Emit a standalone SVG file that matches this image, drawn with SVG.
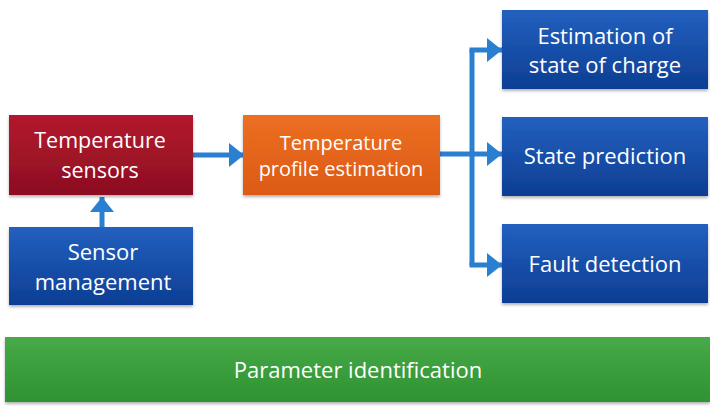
<svg xmlns="http://www.w3.org/2000/svg" width="710" height="406" viewBox="0 0 710 406">
<defs>
<linearGradient id="gRed" x1="0" y1="0" x2="0" y2="1"><stop offset="0" stop-color="#b3172d"/><stop offset="1" stop-color="#8c0f22"/></linearGradient>
<linearGradient id="gOrange" x1="0" y1="0" x2="0" y2="1"><stop offset="0" stop-color="#ec6f22"/><stop offset="1" stop-color="#dc5a15"/></linearGradient>
<linearGradient id="gBlue" x1="0" y1="0" x2="0" y2="1"><stop offset="0" stop-color="#2360bf"/><stop offset="1" stop-color="#0d3e93"/></linearGradient>
<linearGradient id="gGreen" x1="0" y1="0" x2="0" y2="1"><stop offset="0" stop-color="#47aa48"/><stop offset="1" stop-color="#2f9232"/></linearGradient>
<filter id="sh" x="-5%" y="-5%" width="110%" height="120%"><feDropShadow dx="0" dy="2" stdDeviation="1.5" flood-color="#000" flood-opacity="0.3"/></filter>
<marker id="arr" viewBox="0 0 15 24" refX="15" refY="12" markerWidth="3" markerHeight="4.8" orient="auto" markerUnits="strokeWidth"><path d="M0,0 L15,12 L0,24 z" fill="#2b7fd1"/></marker>
</defs>
<style>
.box{filter:url(#sh)}
.t{font-family:"Open Sans","Noto Sans","DejaVu Sans",sans-serif;fill:#fff;text-anchor:middle}
.c{fill:none;stroke:#2b7fd1;stroke-width:5}
</style>
<rect width="710" height="406" fill="#fff"/>
<g id="connectors">
<path class="c" d="M102,227 V197" marker-end="url(#arr)"/>
<path class="c" d="M193,155 H244" marker-end="url(#arr)"/>
<path class="c" d="M440,154 H502" marker-end="url(#arr)"/>
<path class="c" d="M472,50 V265"/>
<path class="c" d="M469.5,50 H502" marker-end="url(#arr)"/>
<path class="c" d="M469.5,265 H502" marker-end="url(#arr)"/>
</g>
<g id="temperature-sensors"><rect class="box" x="9" y="115" width="184" height="80" fill="url(#gRed)"/>
<text class="t" x="100" y="148" font-size="21.5">Temperature</text><text class="t" x="100" y="178" font-size="21.5">sensors</text></g>
<g id="sensor-management"><rect class="box" x="9" y="227" width="184" height="78" fill="url(#gBlue)"/>
<text class="t" x="103" y="260" font-size="22">Sensor</text><text class="t" x="103" y="290" font-size="22">management</text></g>
<g id="temperature-profile-estimation"><rect class="box" x="243" y="115" width="197" height="80" fill="url(#gOrange)"/>
<text class="t" x="341" y="150" font-size="20">Temperature</text><text class="t" x="341" y="176" font-size="20">profile estimation</text></g>
<g id="estimation-soc"><rect class="box" x="502" y="10" width="206" height="79" fill="url(#gBlue)"/>
<text class="t" x="605" y="44" font-size="22">Estimation of</text><text class="t" x="605" y="73" font-size="22">state of charge</text></g>
<g id="state-prediction"><rect class="box" x="502" y="117" width="206" height="79" fill="url(#gBlue)"/>
<text class="t" x="605" y="164" font-size="22">State prediction</text></g>
<g id="fault-detection"><rect class="box" x="502" y="224" width="206" height="79" fill="url(#gBlue)"/>
<text class="t" x="605" y="272" font-size="22">Fault detection</text></g>
<g id="parameter-identification"><rect class="box" x="5" y="337" width="705" height="65" fill="url(#gGreen)"/>
<text class="t" x="358" y="378" font-size="22">Parameter identification</text></g>
</svg>
